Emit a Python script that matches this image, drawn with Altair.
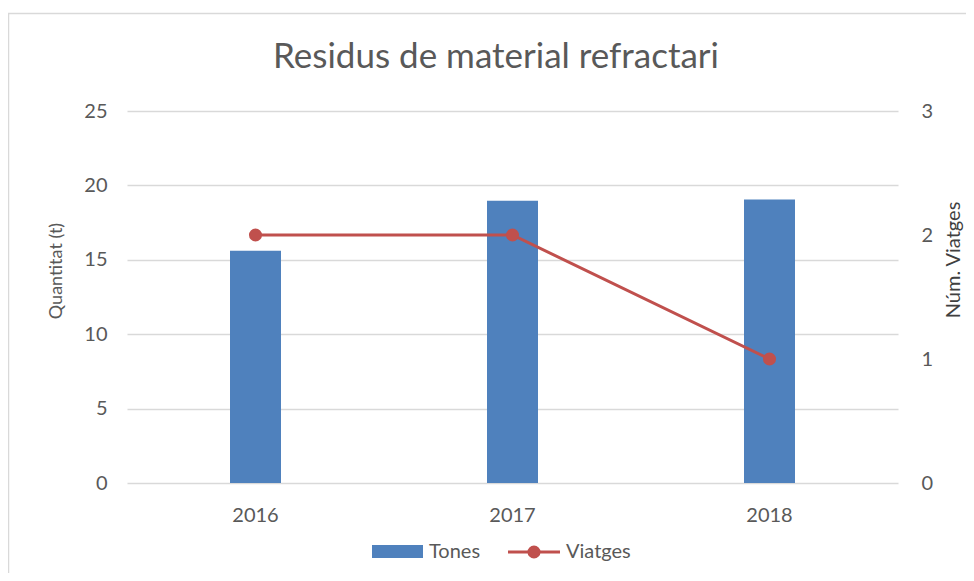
import altair as alt
import pandas as pd

years = ["2016", "2017", "2018"]
tones = [15.6, 18.97, 19.05]
viatges = [2, 2, 1]
left_ticks = [0, 5, 10, 15, 20, 25]
right_ticks = [0, 1, 2, 3]
title_text = ["Residus de material refractari"]
left_title = ["Quantitat (t)"]
right_title = ["Núm. Viatges"]
legend_labels = ["Tones", "Viatges"]

BAR = "#4F81BD"
LINE = "#C0504D"
TXT = "#595959"
GRID = "#d9d9d9"
FONT = "Lato"
W, H = 771, 372

df = pd.DataFrame({"Any": years, "Tones": tones, "Viatges": viatges})

xenc = alt.X(
    "Any:N", sort=years,
    scale=alt.Scale(paddingInner=0, paddingOuter=0),
    axis=alt.Axis(title=None, labelAngle=0, ticks=False, domain=False, grid=False,
                  labelPadding=22, labelFontSize=20, labelColor=TXT, labelFont=FONT),
)

bars = alt.Chart(df).mark_bar(size=51, color=BAR).encode(
    x=xenc,
    y=alt.Y("Tones:Q", scale=alt.Scale(domain=[0, 25], nice=False),
            axis=alt.Axis(values=left_ticks, title=None, grid=True, gridColor=GRID, gridWidth=1.5,
                          domain=False, ticks=False, labelPadding=20, labelFontSize=20,
                          labelColor=TXT, labelFont=FONT)),
)

line = alt.Chart(df).mark_line(
    color=LINE, strokeWidth=3,
    point=alt.OverlayMarkDef(color=LINE, size=170, filled=True, opacity=1),
).encode(
    x=xenc,
    y=alt.Y("Viatges:Q", scale=alt.Scale(domain=[0, 3], nice=False),
            axis=alt.Axis(orient="right", values=right_ticks, title=None, grid=False,
                          domain=False, ticks=False, labelPadding=23, labelFontSize=20,
                          labelColor=TXT, labelFont=FONT)),
)

one = pd.DataFrame({"t": title_text})
title = alt.Chart(one).mark_text(
    font=FONT, fontSize=35, color=TXT, align="center", baseline="alphabetic"
).encode(text="t:N", x=alt.value(369), y=alt.value(-43))

lt = alt.Chart(pd.DataFrame({"t": left_title})).mark_text(
    font=FONT, fontSize=18, color=TXT, align="center", baseline="middle", angle=270
).encode(text="t:N", x=alt.value(-70), y=alt.value(160))

rt = alt.Chart(pd.DataFrame({"t": right_title})).mark_text(
    font=FONT, fontSize=20, color="#404040", align="center", baseline="middle", angle=270
).encode(text="t:N", x=alt.value(827), y=alt.value(149))

border = alt.Chart(one).mark_rect(
    filled=False, stroke=GRID, strokeWidth=1.5
).encode(x=alt.value(-118.5), x2=alt.value(900), y=alt.value(-97.5), y2=alt.value(600))

leg = pd.DataFrame({"label": legend_labels})
leg_rect = alt.Chart(leg.iloc[[0]]).mark_rect(color=BAR).encode(
    x=alt.value(245), x2=alt.value(296), y=alt.value(434), y2=alt.value(447))
leg_rule = alt.Chart(leg.iloc[[1]]).mark_rule(color=LINE, strokeWidth=3).encode(
    x=alt.value(381), x2=alt.value(433), y=alt.value(441))
leg_pt = alt.Chart(leg.iloc[[1]]).mark_point(color=LINE, filled=True, size=170, opacity=1).encode(
    x=alt.value(407), y=alt.value(441))
leg_t1 = alt.Chart(leg.iloc[[0]]).mark_text(
    font=FONT, fontSize=20, color=TXT, align="left", baseline="alphabetic"
).encode(text="label:N", x=alt.value(302), y=alt.value(447))
leg_t2 = alt.Chart(leg.iloc[[1]]).mark_text(
    font=FONT, fontSize=20, color=TXT, align="left", baseline="alphabetic"
).encode(text="label:N", x=alt.value(439), y=alt.value(447))

chart = alt.layer(
    border, bars, line, title, lt, rt, leg_rect, leg_rule, leg_pt, leg_t1, leg_t2
).resolve_scale(y="independent").properties(
    width=W, height=H,
    autosize=alt.AutoSizeParams(type="none"),
    padding={"left": 119, "top": 103, "right": 68, "bottom": 90},
    background="white",
).configure_view(stroke=None)

chart.save("out.html", embed_options={"renderer": "svg", "actions": False})
